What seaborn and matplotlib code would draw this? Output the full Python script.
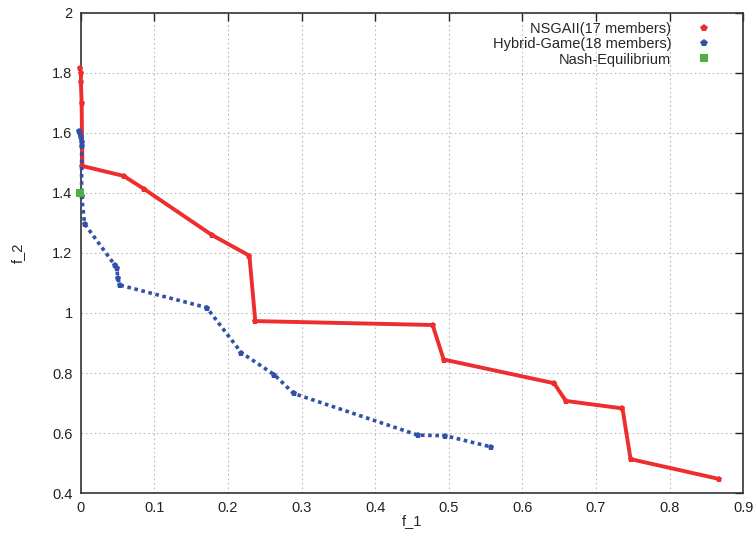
import matplotlib
matplotlib.use("Agg")
import matplotlib.pyplot as plt
from matplotlib.lines import Line2D
import pandas as pd
import seaborn as sns

# Pareto fronts of the two optimisers and the Nash equilibrium point
nsga_f1 = [-0.001, 0.000, 0.000, 0.001, 0.002, 0.058, 0.086, 0.178, 0.229,
           0.237, 0.478, 0.493, 0.643, 0.659, 0.736, 0.747, 0.867]
nsga_f2 = [1.817, 1.800, 1.770, 1.700, 1.490, 1.457, 1.413, 1.260, 1.191,
           0.973, 0.960, 0.845, 0.766, 0.707, 0.682, 0.513, 0.447]

hybrid_f1 = [-0.002, -0.001, 0.000, 0.001, 0.001, 0.001, 0.005, 0.046, 0.049,
             0.050, 0.053, 0.171, 0.218, 0.263, 0.289, 0.458, 0.495, 0.557]
hybrid_f2 = [1.607, 1.600, 1.585, 1.570, 1.555, 1.390, 1.297, 1.160, 1.150,
             1.117, 1.093, 1.018, 0.868, 0.794, 0.732, 0.593, 0.591, 0.554]

nash_f1 = [-0.001]
nash_f2 = [1.400]

labels = ["NSGAII(17 members)", "Hybrid-Game(18 members)", "Nash-Equilibrium"]
RED, BLUE, GREEN = "#ee2e2e", "#3150a8", "#4fb040"

sns.set_theme(style="white")
plt.rcParams["font.family"] = ["Liberation Sans", "DejaVu Sans"]

nsga = pd.DataFrame({"f_1": nsga_f1, "f_2": nsga_f2})
hybrid = pd.DataFrame({"f_1": hybrid_f1, "f_2": hybrid_f2})
nash = pd.DataFrame({"f_1": nash_f1, "f_2": nash_f2})

fig = plt.figure(figsize=(7.56, 5.40), dpi=100)
ax = fig.add_axes([0.107, 0.087, 0.876, 0.889])

sns.lineplot(data=nsga, x="f_1", y="f_2", sort=False, estimator=None, ax=ax,
             color=RED, linewidth=2.8, marker="p", markersize=5,
             markeredgewidth=0, zorder=3, clip_on=False)
sns.lineplot(data=hybrid, x="f_1", y="f_2", sort=False, estimator=None, ax=ax,
             color=BLUE, linewidth=2.6, linestyle=(0, (1.0, 1.0)), marker="p",
             markersize=5, markeredgewidth=0, zorder=4, clip_on=False)
sns.scatterplot(data=nash, x="f_1", y="f_2", ax=ax, color=GREEN, marker="s",
                s=30, linewidth=0, zorder=5, clip_on=False)

ax.set_xlim(0, 0.9)
ax.set_ylim(0.4, 2.0)
ax.set_xticks([0, 0.1, 0.2, 0.3, 0.4, 0.5, 0.6, 0.7, 0.8, 0.9])
ax.set_xticklabels(["0", "0.1", "0.2", "0.3", "0.4", "0.5", "0.6", "0.7", "0.8", "0.9"])
ax.set_yticks([0.4, 0.6, 0.8, 1.0, 1.2, 1.4, 1.6, 1.8, 2.0])
ax.set_yticklabels(["0.4", "0.6", "0.8", "1", "1.2", "1.4", "1.6", "1.8", "2"])
ax.grid(True, color="#bbbbbb", linestyle=(0, (1.5, 2.5)), linewidth=0.8)
ax.tick_params(direction="in", length=6, width=1, top=True, right=True,
               labelsize=10.5, colors="#222222", pad=6)
for s in ax.spines.values():
    s.set_color("#333333")
    s.set_linewidth(1.2)

ax.set_xlabel("f_1", fontsize=10.5, labelpad=-1)
ax.set_ylabel("f_2", fontsize=10.5, labelpad=20)

handles = [
    Line2D([], [], linestyle="none", marker="p", color=RED, markersize=6, markeredgewidth=0),
    Line2D([], [], linestyle="none", marker="p", color=BLUE, markersize=6, markeredgewidth=0),
    Line2D([], [], linestyle="none", marker="s", color=GREEN, markersize=6, markeredgewidth=0),
]
ax.legend(handles, labels, loc="upper right", frameon=False, markerfirst=False,
          fontsize=10.5, handlelength=1.0, handletextpad=1.7, labelspacing=0.1,
          borderaxespad=0.0, bbox_to_anchor=(0.96, 0.994))

fig.savefig("out.png", dpi=100)
